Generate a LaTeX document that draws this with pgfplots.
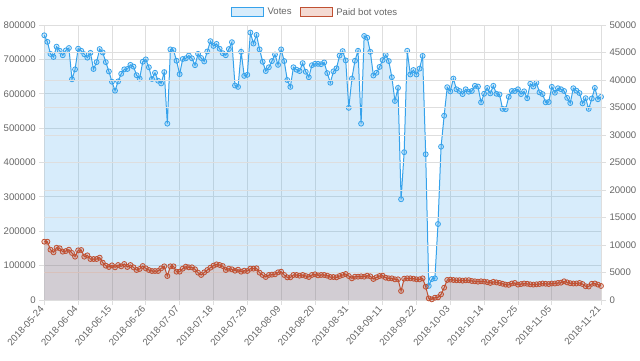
\documentclass[border=0pt]{standalone}
\usepackage{pgfplots}
\pgfplotsset{compat=1.18}
\usepackage{pgfplotstable}
\usepackage{fontspec}
\setmainfont{Liberation Sans}
\definecolor{votecol}{RGB}{54,162,235}
\definecolor{votefill}{RGB}{215,236,251}
\definecolor{botcol}{RGB}{192,80,50}
\definecolor{botfill}{RGB}{244,218,210}
\definecolor{gridc}{RGB}{222,222,222}
\definecolor{zeroc}{RGB}{190,190,190}
\definecolor{labc}{RGB}{102,102,102}

\pgfplotstableread{
d v b
0 770000 10600
1 751000 10600
2 716000 9150
3 707000 8670
4 737000 9500
5 725000 9400
6 712000 8790
7 726000 8900
8 733000 9150
9 642000 8550
10 671000 7880
11 731000 9030
12 725000 9090
13 715000 7880
14 705000 8120
15 719000 7450
16 672000 7450
17 692000 7450
18 730000 7700
19 720000 6790
20 692000 6240
21 665000 6000
22 635000 6300
23 609000 5940
24 636000 6360
25 658000 6120
26 671000 6550
27 672000 6000
28 684000 6360
29 679000 5940
30 654000 5450
31 644000 5640
32 693000 6180
33 700000 5760
34 677000 5450
35 643000 5270
36 661000 5270
37 638000 5270
38 630000 5760
39 663000 6120
40 513000 4360
41 729000 6120
42 727000 6120
43 696000 5150
44 657000 5150
45 701000 5700
46 703000 6060
47 711000 5940
48 703000 5940
49 683000 5580
50 716000 4970
51 704000 4550
52 694000 5030
53 723000 5450
54 753000 5880
55 739000 6240
56 745000 6480
57 731000 6360
58 718000 6180
59 712000 5450
60 730000 5700
61 750000 5580
62 624000 5330
63 620000 5510
64 722000 5150
65 652000 5330
66 655000 5270
67 778000 5700
68 746000 5700
69 771000 5760
70 729000 4970
71 693000 4550
72 666000 4180
73 677000 4550
74 695000 4610
75 714000 4670
76 684000 5030
77 729000 5150
78 695000 4550
79 640000 4120
80 620000 4120
81 677000 4550
82 670000 4550
83 666000 4420
84 689000 4550
85 664000 4360
86 648000 4180
87 683000 4550
88 687000 4670
89 687000 4480
90 686000 4550
91 691000 4550
92 660000 4420
93 632000 4180
94 665000 4180
95 674000 4120
96 711000 4360
97 724000 4550
98 697000 4730
99 559000 4360
100 644000 3940
101 696000 4240
102 725000 4240
103 513000 4300
104 768000 4240
105 763000 4420
106 722000 4300
107 653000 3820
108 661000 4120
109 678000 4360
110 698000 4420
111 713000 4060
112 695000 3940
113 648000 3940
114 579000 3760
115 617000 3760
116 293000 1640
117 430000 3880
118 725000 3940
119 656000 3940
120 669000 3880
121 656000 3760
122 673000 3760
123 710000 3940
124 424000 2420
125 41000 300
126 61000 120
127 63000 420
128 221000 480
129 446000 1030
130 536000 2240
131 619000 3640
132 607000 3700
133 644000 3640
134 613000 3580
135 608000 3600
136 599000 3520
137 613000 3580
138 606000 3600
139 608000 3450
140 623000 3400
141 621000 3330
142 575000 3400
143 600000 3350
144 617000 3250
145 601000 3100
146 623000 3300
147 600000 3200
148 598000 3100
149 556000 2950
150 555000 2800
151 591000 2750
152 608000 3000
153 608000 3100
154 613000 2800
155 599000 2900
156 607000 3000
157 587000 2950
158 629000 2850
159 621000 2800
160 632000 2850
161 604000 2900
162 599000 3000
163 575000 2950
164 576000 2900
165 620000 3000
166 603000 3000
167 616000 3100
168 613000 3150
169 608000 3400
170 588000 3200
171 573000 3050
172 616000 3000
173 609000 3000
174 602000 3100
175 572000 2900
176 587000 2500
177 556000 2450
178 586000 2950
179 617000 3000
180 584000 2800
181 591000 2550
}\datatable

\pgfplotsset{
  common/.style={
    scale only axis, width=556.7pt, height=275pt,
    at={(44.3pt,61pt)}, anchor=south west,
    xmin=0, xmax=181, clip=false,
    grid style={gridc, line width=0.8pt},
    tick style={gridc, line width=0.8pt},
    major tick length=5pt, tick align=outside,
    ticklabel style={font=\fontsize{9.6}{11}\selectfont, text=labc},
    /pgf/number format/assume math mode=true,
    scaled y ticks=false,
    yticklabel style={/pgf/number format/fixed, /pgf/number format/1000 sep={}},
  },
}

\begin{document}
\begin{tikzpicture}
\path[use as bounding box] (0pt,0pt) rectangle (640pt,361pt);
\begin{axis}[common,
  ymin=0, ymax=800000,
  axis x line*=bottom, axis y line*=left,
  x axis line style={zeroc, line width=0.8pt},
  y axis line style={gridc, line width=0.8pt},
  xmajorgrids, ymajorgrids,
  xtick={0,11,22,33,44,55,66,77,88,99,110,121,132,143,154,165,181},
  xticklabels={2018-05-24,2018-06-04,2018-06-15,2018-06-26,2018-07-07,2018-07-18,2018-07-29,2018-08-09,2018-08-20,2018-08-31,2018-09-11,2018-09-22,2018-10-03,2018-10-14,2018-10-25,2018-11-05,2018-11-21},
  xticklabel style={rotate=48, anchor=east},
  ytick={0,100000,...,800000},
  legend style={at={(0.4953,1)}, anchor=center, yshift=12.7pt, xshift=-5pt, draw=none, fill=none,
    inner sep=0pt, font=\fontsize{9.6}{11}\selectfont, text=labc,
    /tikz/every odd column/.append style={column sep=1.5pt},
    /tikz/every even column/.append style={column sep=6pt}},
  legend columns=2,
]
\addplot[draw=none, fill=votecol, fill opacity=0.2, forget plot] table[x=d,y=v]{\datatable} \closedcycle;
\addplot[votecol, line width=1pt, mark=*, mark size=2.5pt,
  mark options={draw=votecol, fill=votecol, fill opacity=0.2, line width=0.8pt}, forget plot]
  table[x=d,y=v]{\datatable};
\addlegendimage{legend image code/.code={\draw[draw=votecol, fill=votefill, line width=1.2pt] (0pt,-4.5pt) rectangle (32pt,4.5pt);}}
\addlegendentry{Votes}
\addlegendimage{legend image code/.code={\draw[draw=botcol, fill=botfill, line width=1.2pt] (0pt,-4.5pt) rectangle (32pt,4.5pt);}}
\addlegendentry{Paid bot votes}
\end{axis}
\begin{axis}[common,
  ymin=0, ymax=50000,
  axis x line=none, axis y line*=right,
  y axis line style={gridc, line width=0.8pt},
  ymajorgrids,
  ytick={0,5000,...,50000},
]
\addplot[draw=none, fill=botcol, fill opacity=0.2, forget plot] table[x=d,y=b]{\datatable} \closedcycle;
\addplot[botcol, line width=1pt, mark=*, mark size=2.5pt,
  mark options={draw=botcol, fill=botcol, fill opacity=0.2, line width=0.8pt}, forget plot]
  table[x=d,y=b]{\datatable};
\end{axis}
\end{tikzpicture}
\end{document}
